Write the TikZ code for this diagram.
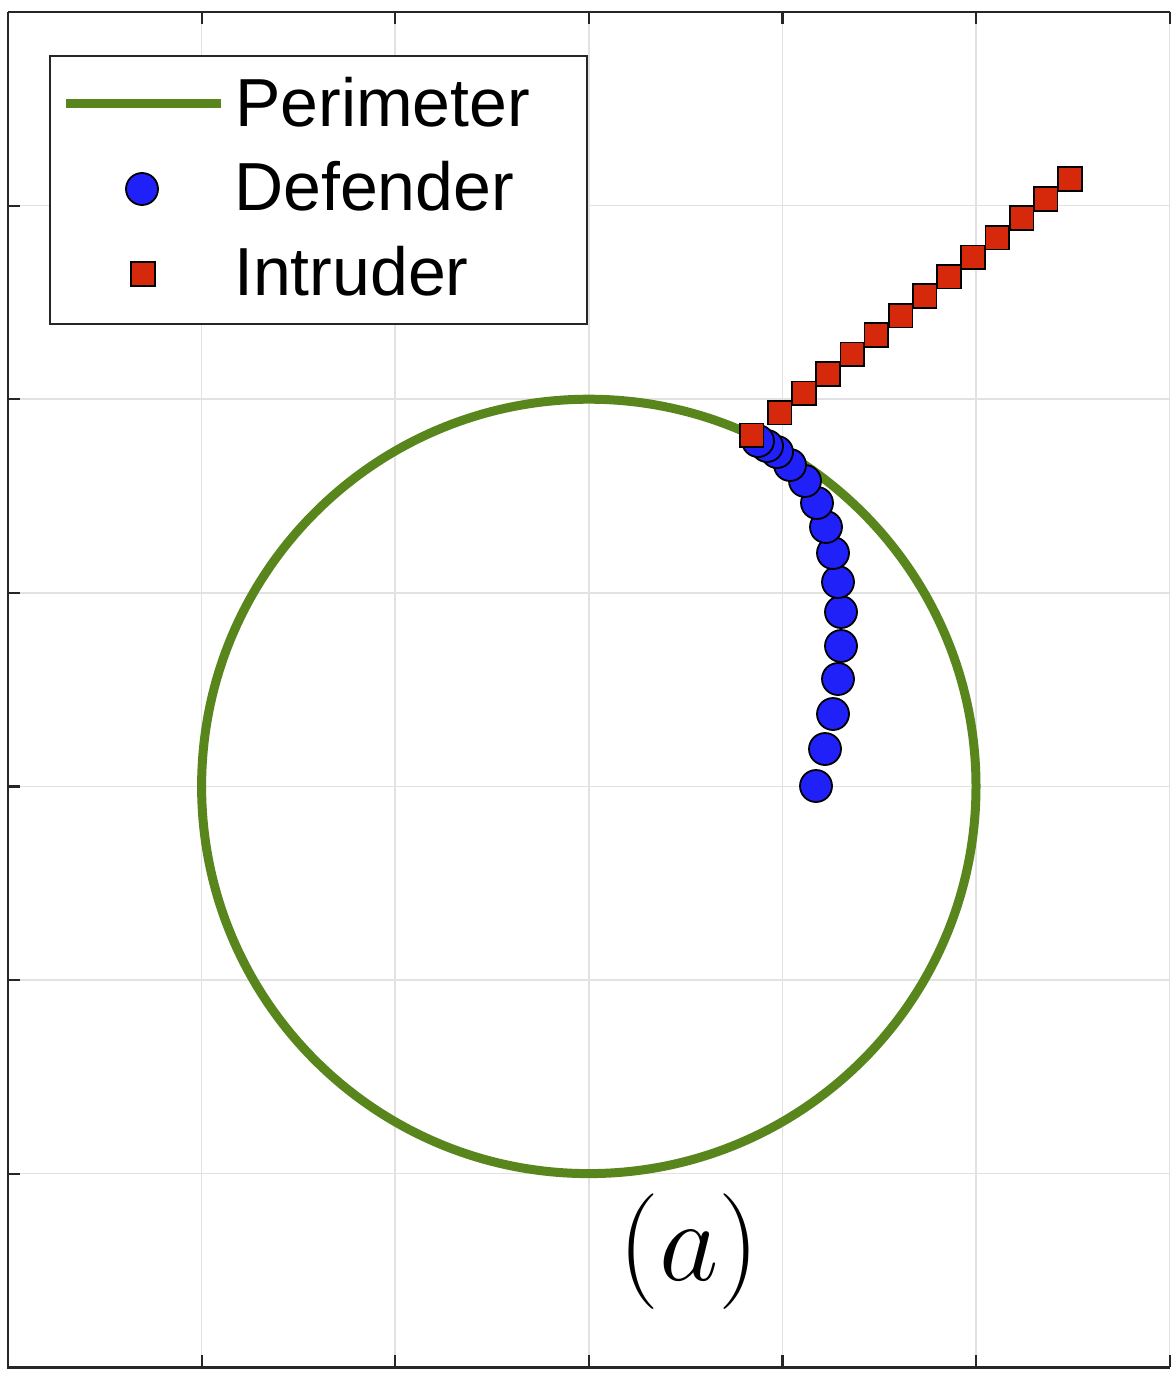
\documentclass[tikz,border=0pt]{standalone}
\usepackage{fontspec}
\newfontfamily\legfont{Liberation Sans}
\definecolor{perim}{RGB}{88,134,28}
\definecolor{defb}{RGB}{32,32,248}
\definecolor{intr}{RGB}{214,40,10}
\definecolor{gridc}{RGB}{226,226,226}
\definecolor{axc}{RGB}{38,38,38}
\tikzset{
  gridline/.style={draw=gridc, line width=1.6pt},
  axisline/.style={draw=axc, line width=2.6pt},
  tickline/.style={draw=axc, line width=2.2pt},
  defmark/.style={circle, draw=black, fill=defb, line width=1.8pt, minimum size=32pt, inner sep=0pt},
  intmark/.style={rectangle, draw=black, fill=intr, line width=1.8pt, minimum size=23.5pt, inner sep=0pt},
  legtext/.style={anchor=base west, inner sep=0pt, font=\legfont\fontsize{68}{80}\selectfont},
}
\begin{document}
\begin{tikzpicture}[x=1pt, y=-1pt]
\useasboundingbox (0,0) rectangle (1171,1378);
\fill[white] (0,0) rectangle (1171,1378);
% grid
\foreach \i in {1,...,5} {
  \draw[gridline] ({8+193.6*\i},12) -- ({8+193.6*\i},1367.2);
}
\foreach \j in {1,...,6} {
  \draw[gridline] (8,{12+193.6*\j}) -- (1169.6,{12+193.6*\j});
}
\draw[gridline] (1169.6,12) -- (1169.6,1367.2);
% axes
\draw[axisline] (8,12) -- (1169.6,12);
\draw[axisline] (8,12) -- (8,1367.2) -- (1169.6,1367.2);
\foreach \i in {1,...,6} {
  \draw[tickline] ({8+193.6*\i},12) -- ({8+193.6*\i},24);
  \draw[tickline] ({8+193.6*\i},1367.2) -- ({8+193.6*\i},1355);
}
\foreach \j in {1,...,6} {
  \draw[tickline] (8,{12+193.6*\j}) -- (20,{12+193.6*\j});
}
% perimeter
\coordinate (ctr) at (588.8,786.4);
\draw[draw=perim, line width=9pt] (ctr) circle[radius=387.2];
% defender trajectory (start at bottom, end at top)
\foreach \x/\y [count=\k] in {816/786, 825/749, 833/714, 838/679, 841/646, 841/612, 838/582, 833/553, 826/527, 817/503, 805/481, 790/465, 777/452, 767/446, 758/441} {
  \node[defmark] (d\k) at (\x,\y) {};
}
% intruder trajectory (start at top right, end near perimeter)
\foreach \x/\y [count=\k] in {1070/179, 1045.7/199, 1021.7/218, 997.3/237.7, 973/257.3, 949/276.7, 924.7/296, 900.7/315.7, 876.3/335, 852.3/354.3, 828/374, 804/393.3, 779.7/412.7, 751.7/435.3} {
  \node[intmark] (s\k) at (\x,\y) {};
}
% legend
\node[draw=axc, fill=white, line width=2pt, minimum width=537pt, minimum height=268pt, anchor=north west, inner sep=0pt] (legend) at (49,55) {};
\coordinate (la) at (66,104);
\coordinate (lb) at (221,104);
\draw[draw=perim, line width=9pt] (la) -- (lb);
\node[defmark] (ldef) at (142,189) {};
\node[intmark] (lint) at (143,274) {};
\node[legtext] (tper) at (235,127) {Perimeter};
\node[legtext] (tdef) at (234,210) {Defender};
\node[legtext] (tint) at (234,295) {Intruder};
% panel label
\node[anchor=base, inner sep=0pt, font=\Huge, scale=4.65] (lab) at (689,1280) {$(a)$};
\end{tikzpicture}
\end{document}
